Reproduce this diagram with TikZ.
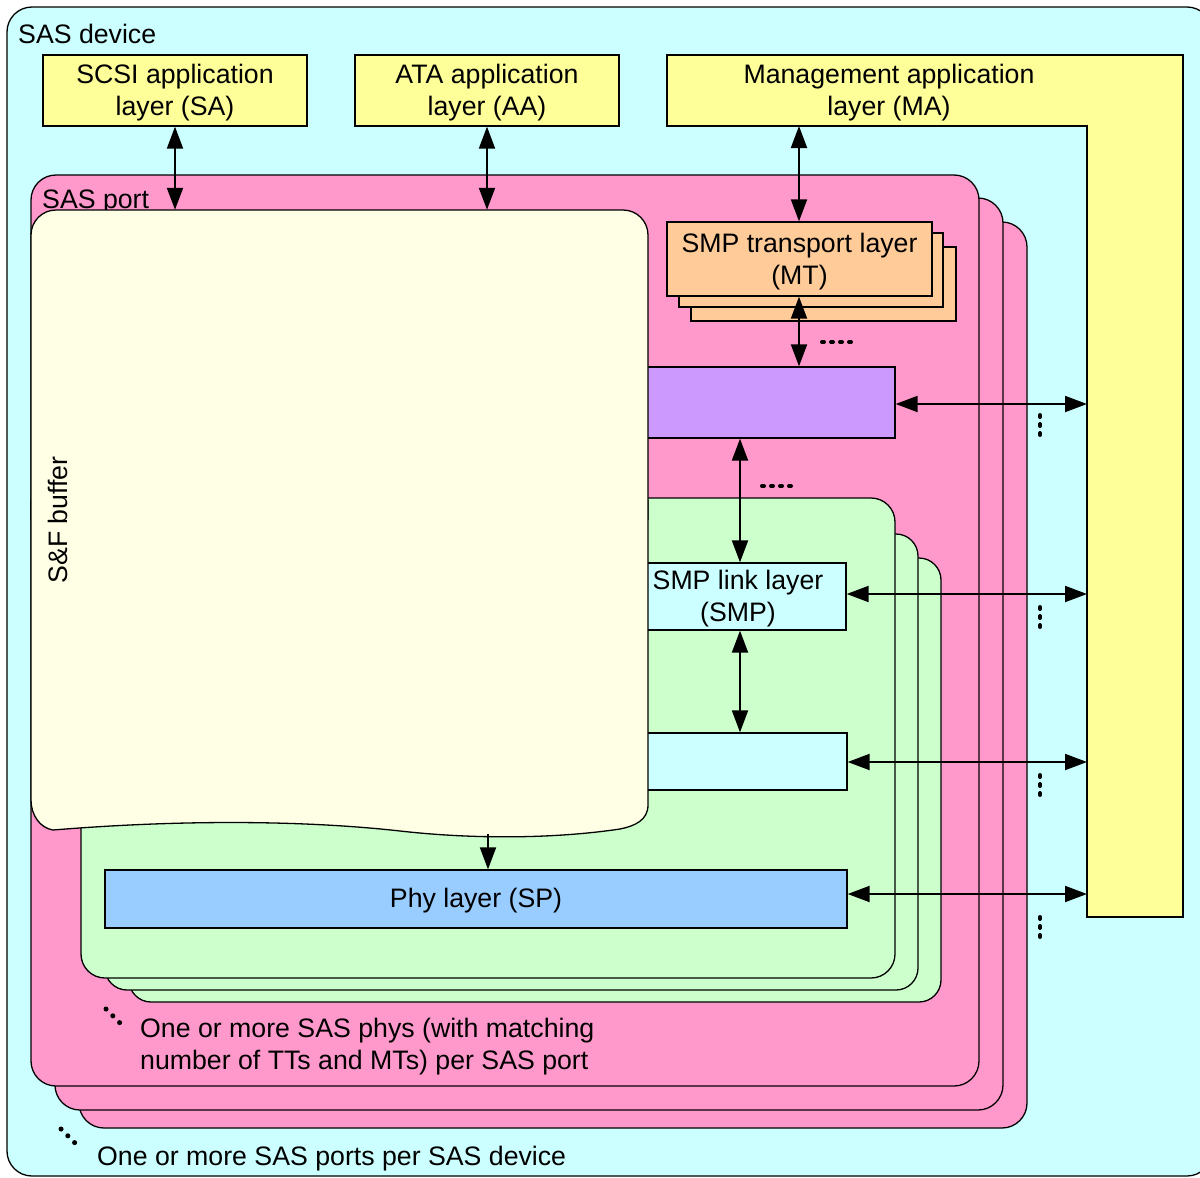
\documentclass[tikz,border=0pt]{standalone}
\usepackage{fontspec}
\setmainfont{Liberation Sans}
\usetikzlibrary{arrows.meta}
\definecolor{devcyan}{HTML}{CCFFFF}
\definecolor{appyel}{HTML}{FFFF99}
\definecolor{portpink}{HTML}{FF99CC}
\definecolor{mtorange}{HTML}{FFCC99}
\definecolor{ttpurple}{HTML}{CC99FF}
\definecolor{phygreen}{HTML}{CCFFCC}
\definecolor{spblue}{HTML}{99CCFF}
\definecolor{bufyel}{HTML}{FFFFE6}
\begin{document}
\begin{tikzpicture}[x=1pt,y=-1pt,
  outl/.style={draw=black, line width=1.3pt},
  lbl/.style={font=\fontsize{26.7}{32}\selectfont, inner sep=0pt, align=center},
  box/.style={outl, rectangle, inner sep=0pt},
  arr/.style={line width=2pt, {Triangle[length=22pt,width=16pt]}-{Triangle[length=22pt,width=16pt]}},
  arrone/.style={line width=2pt, -{Triangle[length=22pt,width=16pt]}},
  dotmark/.style={line width=4pt, line cap=round, dash pattern=on 2pt off 7pt},
  diagdots/.style={line width=5pt, line cap=round, dash pattern=on 0.1pt off 9.5pt},
]
\useasboundingbox (0,0) rectangle (1200,1178);
\clip (0,0) rectangle (1200,1178);

% SAS device
\draw[outl, fill=devcyan, rounded corners=25pt] (7,7) rectangle (1212,1176);
\node[lbl, anchor=west] (devlbl) at (18,34) {SAS device};

% application layers
\node[box, fill=appyel, minimum width=264pt, minimum height=71pt] (sa) at (175,90.5) {};
\node[lbl] (salbl) at ([yshift=-2.5pt]sa.center) {SCSI application\\layer (SA)};
\node[box, fill=appyel, minimum width=264pt, minimum height=71pt] (ata) at (487,90.5) {};
\node[lbl] (atalbl) at ([yshift=-2.5pt]ata.center) {ATA application\\layer (AA)};
\draw[outl, fill=appyel] (667,55) -- (1183,55) -- (1183,917) -- (1087,917) -- (1087,126) -- (667,126) -- cycle;
\node[lbl] (ma) at (889,92.5) {Management application\\layer (MA)};
\coordinate (mabot) at (799,126);
\coordinate (main) at (1087,600);

% SAS ports
\draw[outl, fill=portpink, rounded corners=25pt] (79,222) rectangle (1027,1128);
\draw[outl, fill=portpink, rounded corners=25pt] (55,198) rectangle (1003,1110);
\draw[outl, fill=portpink, rounded corners=25pt] (31,175) rectangle (979,1086);
\node[lbl, anchor=west] (portlbl) at (42,202) {SAS port};

% SMP transport layers
\draw[outl, fill=mtorange] (691,247) rectangle (956,321);
\draw[outl, fill=mtorange] (679,233) rectangle (943,307);
\node[box, fill=mtorange, minimum width=265pt, minimum height=74pt] (mt) at (799.5,259) {};
\node[lbl] (mtlbl) at ([yshift=-2.5pt]mt.center) {SMP transport layer\\(MT)};

% purple layer
\node[box, fill=ttpurple, minimum width=265pt, minimum height=71pt] (tt) at (762.5,402.5) {};

% SAS phys
\draw[outl, fill=phygreen, rounded corners=22pt] (129,558) rectangle (941,1002);
\draw[outl, fill=phygreen, rounded corners=22pt] (105,534) rectangle (918,990);
\draw[outl, fill=phygreen, rounded corners=24pt] (81,498) rectangle (895,978);

\node[box, fill=devcyan, minimum width=216pt, minimum height=67pt] (smp) at (738,596.5) {};
\node[lbl] (smplbl) at ([yshift=-2pt]smp.center) {SMP link layer\\(SMP)};
\node[box, fill=devcyan, minimum width=217pt, minimum height=57pt] (lnk) at (738.5,761.5) {};
\node[box, fill=spblue, minimum width=742pt, minimum height=58pt] (phy) at (476,899) {};
\node[lbl] (phylbl) at ([yshift=-1.5pt]phy.center) {Phy layer (SP)};

% S&F buffer
\draw[outl, fill=bufyel, rounded corners=25pt] (31,520) -- (31,210) -- (648,210) -- (648,520);
\fill[bufyel] (31,500) rectangle (648,800);
\draw[outl, fill=bufyel] (31,500) -- (31,800) .. controls (31,815) and (40,828) .. (53,830)
  .. controls (200,818) and (320,822) .. (400,831)
  .. controls (480,840) and (560,838) .. (620,829)
  .. controls (635,826) and (648,820) .. (648,805) -- (648,500);
\node[minimum width=617pt, minimum height=620pt, inner sep=0pt] (buf) at (339.5,520) {};
\node[lbl, rotate=90] (buflbl) at (58,520) {S\&F buffer};
\coordinate (bufout) at (488,834);

% vertical connectors
\draw[arr] (sa.south) -- (sa.south |- buf.north);
\draw[arr] (ata.south) -- (ata.south |- buf.north);
\draw[arr] (mabot) -- (mabot |- mt.north);
\draw[arr] (mabot |- mt.south) -- (mabot |- tt.north);
\draw[arr] (740,0 |- tt.south) -- (740,0 |- smp.north);
\draw[arr] (740,0 |- smp.south) -- (740,0 |- lnk.north);
\draw[arrone] (bufout) -- (bufout |- phy.north);

% horizontal connectors
\draw[arr] ([yshift=-1.5pt]tt.east) -- ([yshift=-1.5pt]tt.east -| main);
\draw[arr] ([yshift=2.5pt]smp.east) -- ([yshift=2.5pt]smp.east -| main);
\draw[arr] ([yshift=-0.5pt]lnk.east) -- ([yshift=-0.5pt]lnk.east -| main);
\draw[arr] ([yshift=5pt]phy.east) -- ([yshift=5pt]phy.east -| main);

% ellipsis marks
\draw[dotmark] (822,342) -- (853,342);
\draw[dotmark] (762,486) -- (793,486);
\draw[dotmark] (1040,415) -- (1040,435);
\draw[dotmark] (1040,607) -- (1040,627);
\draw[dotmark] (1040,775) -- (1040,795);
\draw[dotmark] (1040,917) -- (1040,937);
\draw[diagdots] (106,1009) -- (120,1023);
\draw[diagdots] (61,1129) -- (75,1143);

% notes
\node[lbl, anchor=west, align=left] (physnote) at (140,1047) {One or more SAS phys (with matching\\number of TTs and MTs) per SAS port};
\node[lbl, anchor=west] (portsnote) at (97,1159) {One or more SAS ports per SAS device};
\end{tikzpicture}
\end{document}
